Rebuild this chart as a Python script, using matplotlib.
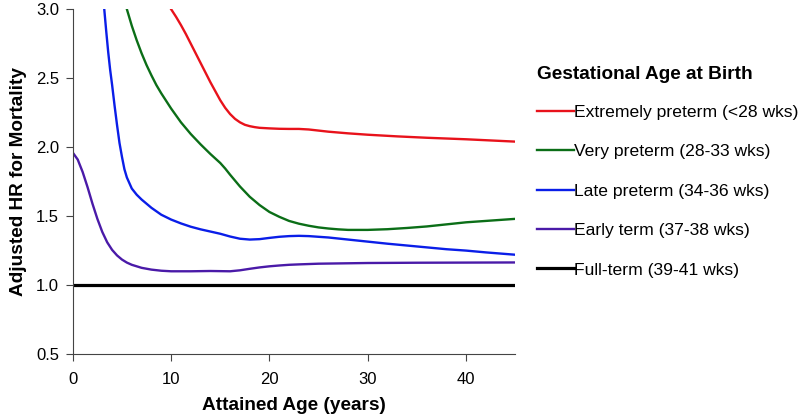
import numpy as np
import matplotlib.pyplot as plt

plt.rcParams["font.family"] = ["Liberation Sans", "DejaVu Sans"]

# curves (attained age in years, adjusted HR)
ext_age = [10, 10.5, 11, 11.5, 12, 12.5, 13, 13.5, 14, 14.5, 15, 15.5, 16, 16.5, 17, 17.5, 18, 18.5, 19, 20, 21, 22, 23, 24, 25, 26, 28, 30, 33, 36, 40, 45]
ext_hr = [3.0, 2.945, 2.885, 2.82, 2.75, 2.68, 2.61, 2.54, 2.47, 2.405, 2.34, 2.285, 2.24, 2.205, 2.18, 2.162, 2.152, 2.145, 2.14, 2.136, 2.133, 2.132, 2.132, 2.128, 2.12, 2.112, 2.10, 2.09, 2.078, 2.068, 2.057, 2.04]

very_age = [5.5, 6, 6.5, 7, 7.5, 8, 8.5, 9, 9.5, 10, 11, 12, 13, 14, 15, 15.5, 16, 17, 18, 19, 20, 21, 22, 23, 24, 25, 26, 27, 28, 29, 30, 32, 34, 36, 38, 40, 42, 45]
very_hr = [3.0, 2.88, 2.775, 2.68, 2.595, 2.52, 2.45, 2.39, 2.335, 2.28, 2.18, 2.095, 2.02, 1.95, 1.885, 1.845, 1.80, 1.715, 1.64, 1.58, 1.53, 1.495, 1.465, 1.445, 1.43, 1.418, 1.41, 1.404, 1.40, 1.40, 1.40, 1.405, 1.414, 1.425, 1.44, 1.455, 1.465, 1.48]

late_age = [3.2, 3.4, 3.6, 3.8, 4.0, 4.25, 4.5, 4.75, 5.0, 5.25, 5.5, 6, 6.5, 7, 7.5, 8, 9, 10, 11, 12, 13, 14, 15, 16, 17, 18, 19, 20, 21, 22, 23, 24, 25, 26, 28, 30, 32, 35, 38, 40, 42, 45]
late_hr = [3.0, 2.84, 2.69, 2.56, 2.45, 2.3, 2.16, 2.03, 1.93, 1.84, 1.78, 1.70, 1.655, 1.62, 1.59, 1.56, 1.51, 1.475, 1.447, 1.423, 1.404, 1.388, 1.372, 1.352, 1.336, 1.33, 1.333, 1.342, 1.35, 1.355, 1.357, 1.355, 1.35, 1.345, 1.33, 1.315, 1.30, 1.28, 1.26, 1.25, 1.237, 1.22]

early_age = [0, 0.5, 1, 1.5, 2, 2.5, 3, 3.5, 4, 4.5, 5, 5.5, 6, 7, 8, 9, 10, 12, 14, 16, 17, 18, 19, 20, 21, 22, 23, 25, 28, 30, 35, 40, 45]
early_hr = [1.96, 1.91, 1.82, 1.71, 1.59, 1.48, 1.385, 1.31, 1.255, 1.215, 1.185, 1.163, 1.147, 1.125, 1.112, 1.104, 1.10, 1.10, 1.102, 1.10, 1.107, 1.118, 1.128, 1.136, 1.142, 1.147, 1.15, 1.155, 1.158, 1.16, 1.162, 1.163, 1.164]

full_age = [0, 45]
full_hr = [1.0, 1.0]

labels = ["Extremely preterm (<28 wks)", "Very preterm (28-33 wks)",
          "Late preterm (34-36 wks)", "Early term (37-38 wks)", "Full-term (39-41 wks)"]

fig = plt.figure(figsize=(8, 4.18), dpi=100)
ax = fig.add_axes([0.091, 0.153, 0.553, 0.825])

ax.plot(ext_age, ext_hr, color="#e8121b", lw=1.7, label=labels[0])
ax.plot(very_age, very_hr, color="#0b6e17", lw=1.7, label=labels[1])
ax.plot(late_age, late_hr, color="#0a1ee8", lw=1.7, label=labels[2])
ax.plot(early_age, early_hr, color="#4a1aa8", lw=1.7, label=labels[3])
ax.plot(full_age, full_hr, color="black", lw=2.3, label=labels[4])

ax.set_xlim(0, 45)
ax.set_ylim(0.5, 3.0)
ax.set_xticks([0, 10, 20, 30, 40])
ax.set_yticks([0.5, 1.0, 1.5, 2.0, 2.5, 3.0])
ax.set_yticklabels(["0.5", "1.0", "1.5", "2.0", "2.5", "3.0"])
for s in ["top", "right"]:
    ax.spines[s].set_visible(False)
for s in ["left", "bottom"]:
    ax.spines[s].set_color("#444444")
ax.tick_params(direction="out", length=5, color="#444444", labelsize=12, pad=5)
ax.tick_params(axis="x", pad=8)
ax.set_xlabel("Attained Age (years)", fontsize=13.7, fontweight="bold", labelpad=7)
ax.set_ylabel("Adjusted HR for Mortality", fontsize=13.7, fontweight="bold", labelpad=6)

leg = fig.legend(loc="upper left", bbox_to_anchor=(0.663, 0.86), frameon=False,
                 title="Gestational Age at Birth", fontsize=12.6,
                 handlelength=2.1, handletextpad=0.0, labelspacing=1.38,
                 borderaxespad=0)
leg.get_title().set_fontweight("bold")
leg.get_title().set_fontsize(13.7)
leg._legend_box.align = "left"
leg._legend_box.sep = 16

fig.savefig("out.png", dpi=100)
